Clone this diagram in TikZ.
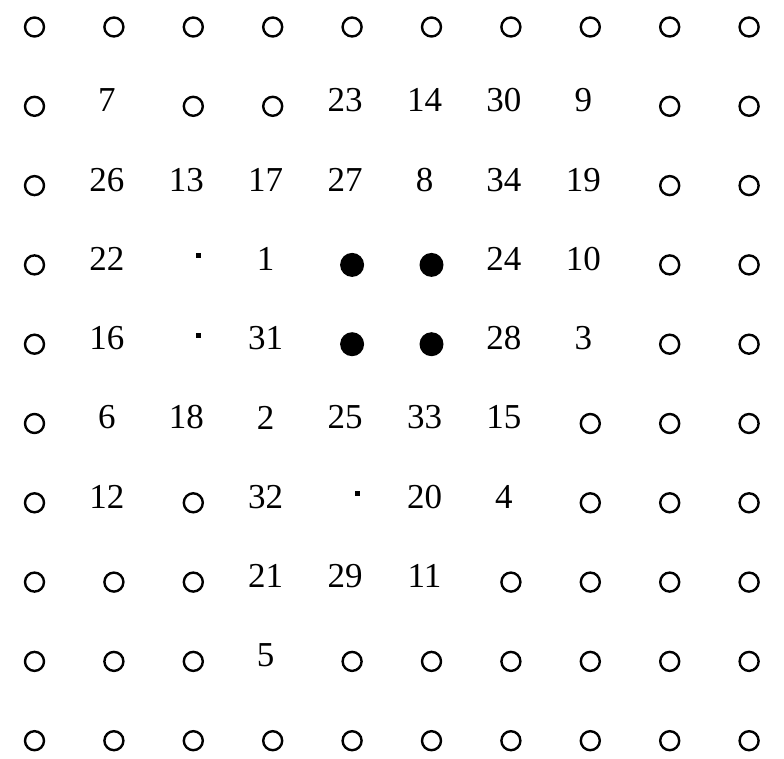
\documentclass[tikz,border=0pt]{standalone}
\usepackage{fontspec}
\setmainfont{Liberation Serif}
\begin{document}
\begin{tikzpicture}[x=1pt,y=-1pt,
  kO/.style={circle,draw,line width=2.4pt,minimum size=19pt,inner sep=0pt},
  kF/.style={circle,fill,minimum size=24pt,inner sep=0pt},
  kS/.style={rectangle,fill,minimum size=5pt,inner sep=0pt,xshift=5pt,yshift=9pt},
  kT/.style={font=\fontsize{35}{35}\selectfont,inner sep=0pt,xshift=-7pt,yshift=6pt}]
\useasboundingbox (0,0) rectangle (784,759);
\foreach \row [count=\r from 0] in {
  {kO/,kO/,kO/,kO/,kO/,kO/,kO/,kO/,kO/,kO/},
  {kO/,kT/7,kO/,kO/,kT/23,kT/14,kT/30,kT/9,kO/,kO/},
  {kO/,kT/26,kT/13,kT/17,kT/27,kT/8,kT/34,kT/19,kO/,kO/},
  {kO/,kT/22,kS/,kT/1,kF/,kF/,kT/24,kT/10,kO/,kO/},
  {kO/,kT/16,kS/,kT/31,kF/,kF/,kT/28,kT/3,kO/,kO/},
  {kO/,kT/6,kT/18,kT/2,kT/25,kT/33,kT/15,kO/,kO/,kO/},
  {kO/,kT/12,kO/,kT/32,kS/,kT/20,kT/4,kO/,kO/,kO/},
  {kO/,kO/,kO/,kT/21,kT/29,kT/11,kO/,kO/,kO/,kO/},
  {kO/,kO/,kO/,kT/5,kO/,kO/,kO/,kO/,kO/,kO/},
  {kO/,kO/,kO/,kO/,kO/,kO/,kO/,kO/,kO/,kO/}}{
  \foreach \k/\t [count=\c from 0] in \row {
    \node[\k] (n-\r-\c) at ({34.5+79.4*\c},{27+79.3*\r}) {\t};
  }
}
\end{tikzpicture}
\end{document}
